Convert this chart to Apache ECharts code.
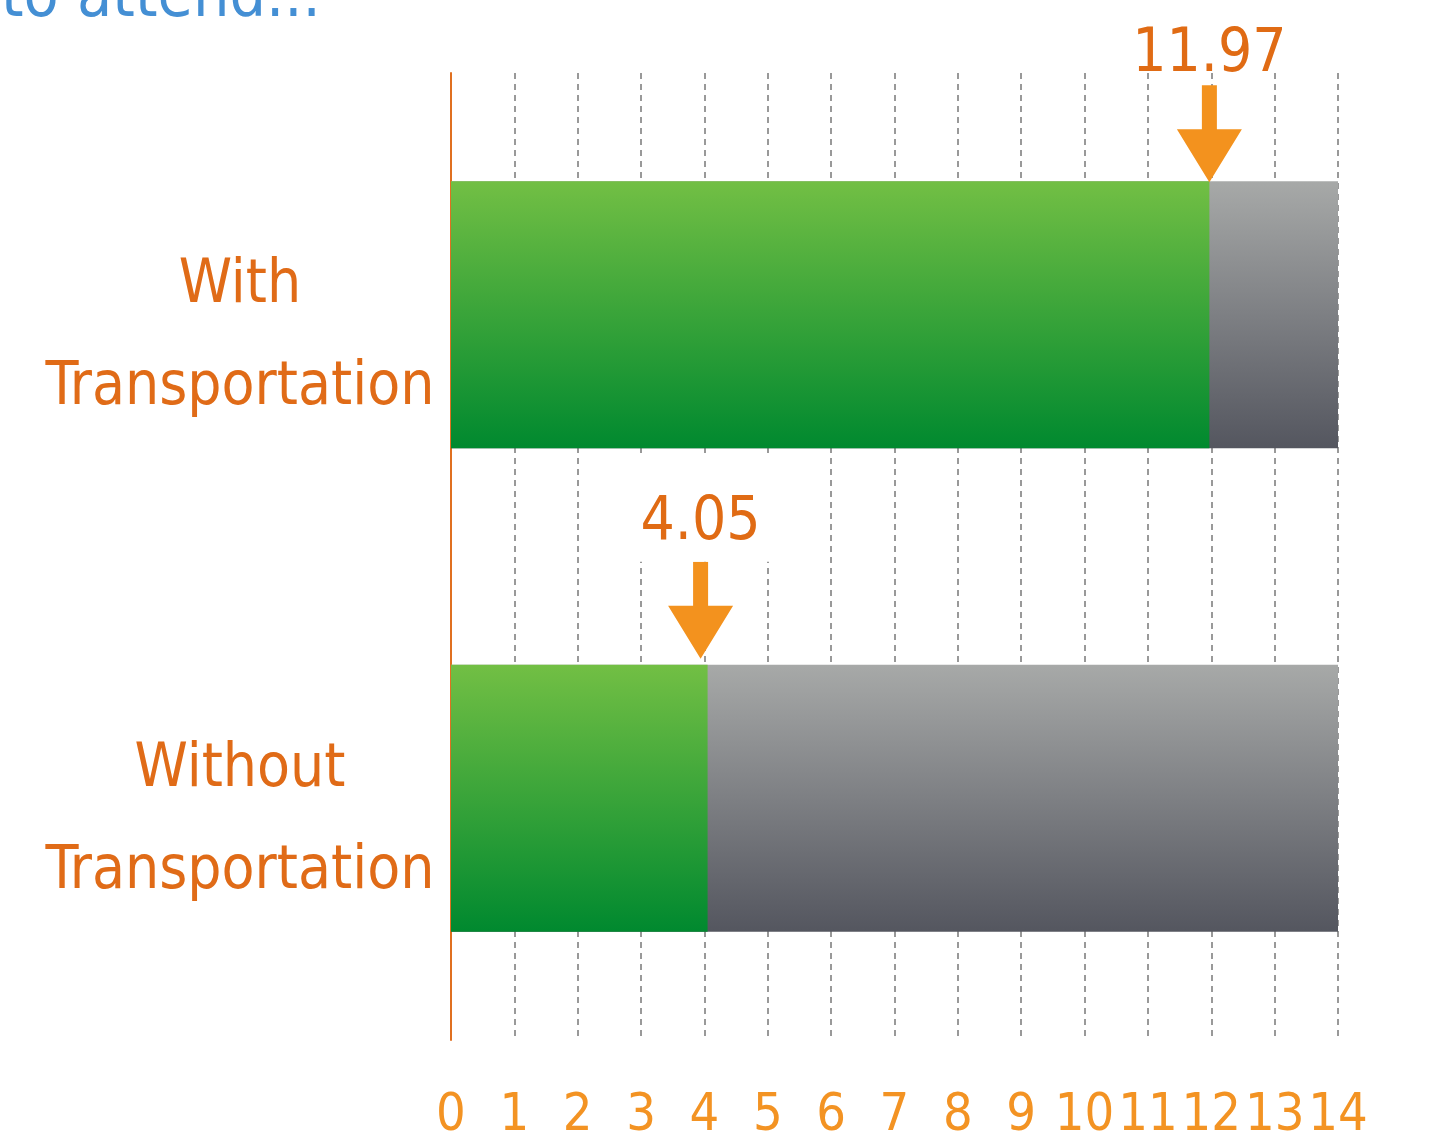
<!DOCTYPE html>
<html lang="en">
<head>
    <meta charset="UTF-8">
    <title>transportation</title>
    <script src="https://cdn.jsdelivr.net/npm/echarts@6/dist/echarts.min.js"></script>
    <style>
        html, body { margin: 0; padding: 0; background: #fff; }
    </style>
</head>
<body>
<div id="chart_bar" style="width: 1430px;height: 1148px"></div>
<script>
    var categories = ['With\nTransportation', 'Without\nTransportation'];
    var values = [11.97, 4.05];
    var xTicks = ['0','1','2','3','4','5','6','7','8','9','10','11','12','13','14'];

    var font = "'DejaVu Sans Condensed', 'Liberation Sans Narrow', sans-serif";
    var arrow = 'path://M25,0 L40,0 L40,44 L65,44 L32.5,97 L0,44 L25,44 Z';

    function barchart() {
        var option = {
            animation: false,
            title: {
                text: 'to attend...',
                left: -4,
                top: -38,
                textStyle: { color: '#448fd4', fontSize: 64, fontWeight: 'normal', fontFamily: font }
            },
            grid: {
                left: 451,
                right: 92,
                top: 73,
                bottom: 108
            },
            xAxis: {
                type: 'value',
                min: 0,
                max: 14,
                interval: 1,
                axisLine: { show: false },
                axisTick: { show: false },
                splitLine: {
                    show: true,
                    lineStyle: { color: '#999', width: 2, type: [6, 5] }
                },
                axisLabel: {
                    color: '#f39323',
                    fontSize: 52,
                    fontFamily: font,
                    margin: 50,
                    showMinLabel: true,
                    showMaxLabel: true,
                    hideOverlap: false,
                    formatter: function (v) { return xTicks[v]; }
                }
            },
            yAxis: {
                type: 'category',
                inverse: true,
                data: categories,
                axisLine: { show: true, lineStyle: { color: '#e07020', width: 2 } },
                axisTick: { show: false },
                axisLabel: {
                    color: '#e06b17',
                    fontFamily: font,
                    align: 'center',
                    margin: 211,
                    formatter: function (v) {
                        // blank spacer line pushes the two words down a little
                        return '{s| }\n' + v.split('\n').map(function (l) {
                            return '{t|' + l + '}';
                        }).join('\n');
                    },
                    rich: {
                        s: { fontSize: 10, lineHeight: 46 },
                        t: { fontSize: 60, lineHeight: 102, color: '#e06b17', fontFamily: font }
                    }
                }
            },
            series: [
                {
                    name: 'value',
                    type: 'bar',
                    barWidth: 267,
                    data: values,
                    itemStyle: {
                        color: new echarts.graphic.LinearGradient(0, 0, 0, 1, [
                            { offset: 0, color: '#72bf44' },
                            { offset: 1, color: '#00892f' }
                        ])
                    },
                    showBackground: true,
                    backgroundStyle: {
                        color: new echarts.graphic.LinearGradient(0, 0, 0, 1, [
                            { offset: 0, color: '#a7a9a8' },
                            { offset: 1, color: '#54565f' }
                        ])
                    },
                    markPoint: {
                        symbol: arrow,
                        symbolSize: [65, 97],
                        itemStyle: { color: '#f3921e' },
                        label: {
                            show: true,
                            position: 'top',
                            color: '#e06b14',
                            fontSize: 60,
                            fontFamily: font,
                            formatter: function (p) { return p.value; }
                        },
                        data: [
                            {
                                coord: [values[0], 0],
                                value: values[0],
                                symbolOffset: [0, -181],
                                label: { distance: 0 }
                            },
                            {
                                coord: [values[1], 1],
                                value: values[1],
                                symbolOffset: [-7, -188],
                                label: {
                                    distance: 0,
                                    backgroundColor: '#fff',
                                    padding: [40, 30, 8, 30]
                                }
                            }
                        ]
                    }
                }
            ]
        };

        var chart_bar = echarts.init(document.getElementById('chart_bar'));
        chart_bar.setOption(option);
    }
    barchart();
</script>
</body>
</html>
